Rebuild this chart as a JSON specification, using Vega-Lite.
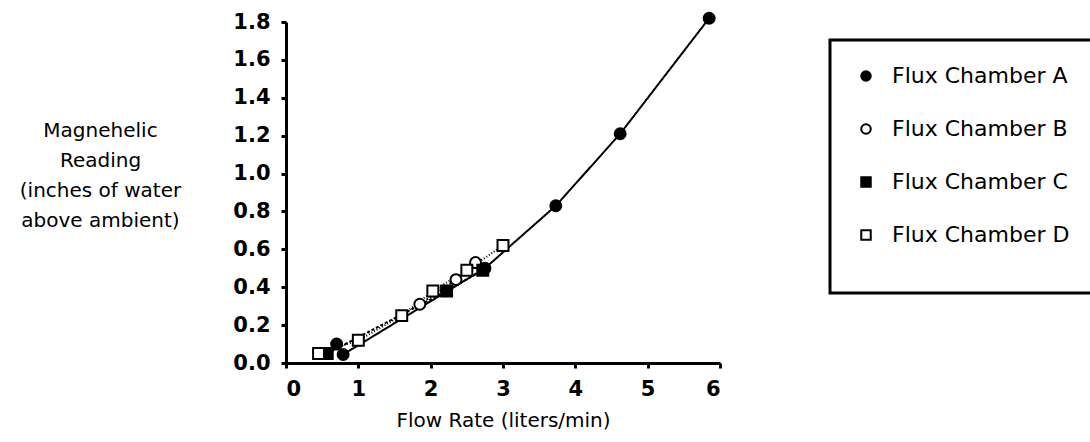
{
  "$schema": "https://vega.github.io/schema/vega-lite/v6.json",
  "width": 434,
  "height": 341,
  "autosize": {"type": "none"},
  "padding": {"left": 286, "top": 22, "right": 370, "bottom": 79},
  "background": "white",
  "data": {
    "values": [
      {"series": "Flux Chamber A", "flow": 0.70, "reading": 0.10},
      {"series": "Flux Chamber A", "flow": 0.79, "reading": 0.045},
      {"series": "Flux Chamber A", "flow": 2.75, "reading": 0.50},
      {"series": "Flux Chamber A", "flow": 3.73, "reading": 0.83},
      {"series": "Flux Chamber A", "flow": 4.62, "reading": 1.21},
      {"series": "Flux Chamber A", "flow": 5.85, "reading": 1.82},
      {"series": "Flux Chamber B", "flow": 1.85, "reading": 0.31},
      {"series": "Flux Chamber B", "flow": 2.35, "reading": 0.44},
      {"series": "Flux Chamber B", "flow": 2.62, "reading": 0.53},
      {"series": "Flux Chamber C", "flow": 0.57, "reading": 0.05},
      {"series": "Flux Chamber C", "flow": 2.22, "reading": 0.38},
      {"series": "Flux Chamber C", "flow": 2.72, "reading": 0.49},
      {"series": "Flux Chamber D", "flow": 0.45, "reading": 0.05},
      {"series": "Flux Chamber D", "flow": 1.0, "reading": 0.12},
      {"series": "Flux Chamber D", "flow": 1.6, "reading": 0.25},
      {"series": "Flux Chamber D", "flow": 2.03, "reading": 0.38},
      {"series": "Flux Chamber D", "flow": 2.5, "reading": 0.49},
      {"series": "Flux Chamber D", "flow": 3.0, "reading": 0.62}
    ]
  },
  "encoding": {
    "x": {
      "field": "flow", "type": "quantitative",
      "scale": {"domain": [0, 6], "nice": false},
      "axis": {
        "values": [0, 1, 2, 3, 4, 5, 6], "format": "d", "grid": false, "labelOverlap": false,
        "domainColor": "black", "domainWidth": 3, "tickColor": "black", "tickWidth": 3, "tickSize": 5,
        "labelFont": "DejaVu Sans", "labelFontSize": 21, "labelFontWeight": "bold", "labelColor": "black", "labelPadding": 10,
        "title": "Flow Rate (liters/min)", "titleFont": "DejaVu Sans", "titleFontSize": 20, "titleFontWeight": "normal", "titleColor": "black", "titlePadding": 11
      }
    },
    "y": {
      "field": "reading", "type": "quantitative",
      "scale": {"domain": [0, 1.8], "nice": false},
      "axis": {
        "values": [0, 0.2, 0.4, 0.6, 0.8, 1.0, 1.2, 1.4, 1.6, 1.8], "format": ".1f", "grid": false, "labelOverlap": false, "tickCount": 10,
        "domainColor": "black", "domainWidth": 3, "tickColor": "black", "tickWidth": 3, "tickSize": 5,
        "labelFont": "DejaVu Sans", "labelFontSize": 21, "labelFontWeight": "bold", "labelColor": "black", "labelPadding": 11,
        "title": ["Magnehelic", "Reading", "(inches of water", "above ambient)"],
        "titleFont": "DejaVu Sans", "titleFontSize": 20, "titleFontWeight": "normal", "titleColor": "black",
        "titleAngle": 0, "titleAlign": "center", "titleBaseline": "top", "titleX": -186, "titleY": 98, "titleLineHeight": 30
      }
    }
  },
  "layer": [
    {
      "mark": {"type": "line", "color": "black", "strokeWidth": 2},
      "encoding": {
        "detail": {"field": "series"},
        "strokeDash": {"field": "series", "scale": {"range": [[1, 0], [2, 2], [3, 2], [1, 2]]}, "legend": null},
        "strokeWidth": {"field": "series", "scale": {"range": [2.5, 1.5, 1.5, 1.5]}, "legend": null}
      }
    },
    {
      "mark": {"type": "point", "filled": true, "strokeWidth": 2, "opacity": 1, "size": 120},
      "encoding": {
        "shape": {
          "field": "series", "type": "nominal",
          "scale": {"range": ["circle", "circle", "square", "square"]},
          "legend": {"title": "\u00a0", "titleOrient": "bottom", "titleFontSize": 20, "titlePadding": 2}
        },
        "fill": {
          "field": "series", "type": "nominal",
          "scale": {"range": ["black", "white", "black", "white"]},
          "legend": {"title": "\u00a0", "titleOrient": "bottom", "titleFontSize": 20, "titlePadding": 2}
        },
        "stroke": {
          "field": "series", "type": "nominal",
          "scale": {"range": ["black", "black", "black", "black"]},
          "legend": {"title": "\u00a0", "titleOrient": "bottom", "titleFontSize": 20, "titlePadding": 2}
        }
      }
    }
  ],
  "resolve": {"scale": {"strokeDash": "independent", "strokeWidth": "independent"}},
  "config": {
    "view": {"stroke": null},
    "font": "DejaVu Sans",
    "legend": {
      "orient": "none", "legendX": 544, "legendY": 18,
      "strokeColor": "black", "strokeWidth": 3, "fillColor": "white",
      "padding": 25, "rowPadding": 31,
      "labelFont": "DejaVu Sans", "labelFontSize": 22, "labelColor": "black", "labelOffset": 15, "labelLimit": 400,
      "symbolSize": 90, "symbolStrokeWidth": 2
    }
  }
}
